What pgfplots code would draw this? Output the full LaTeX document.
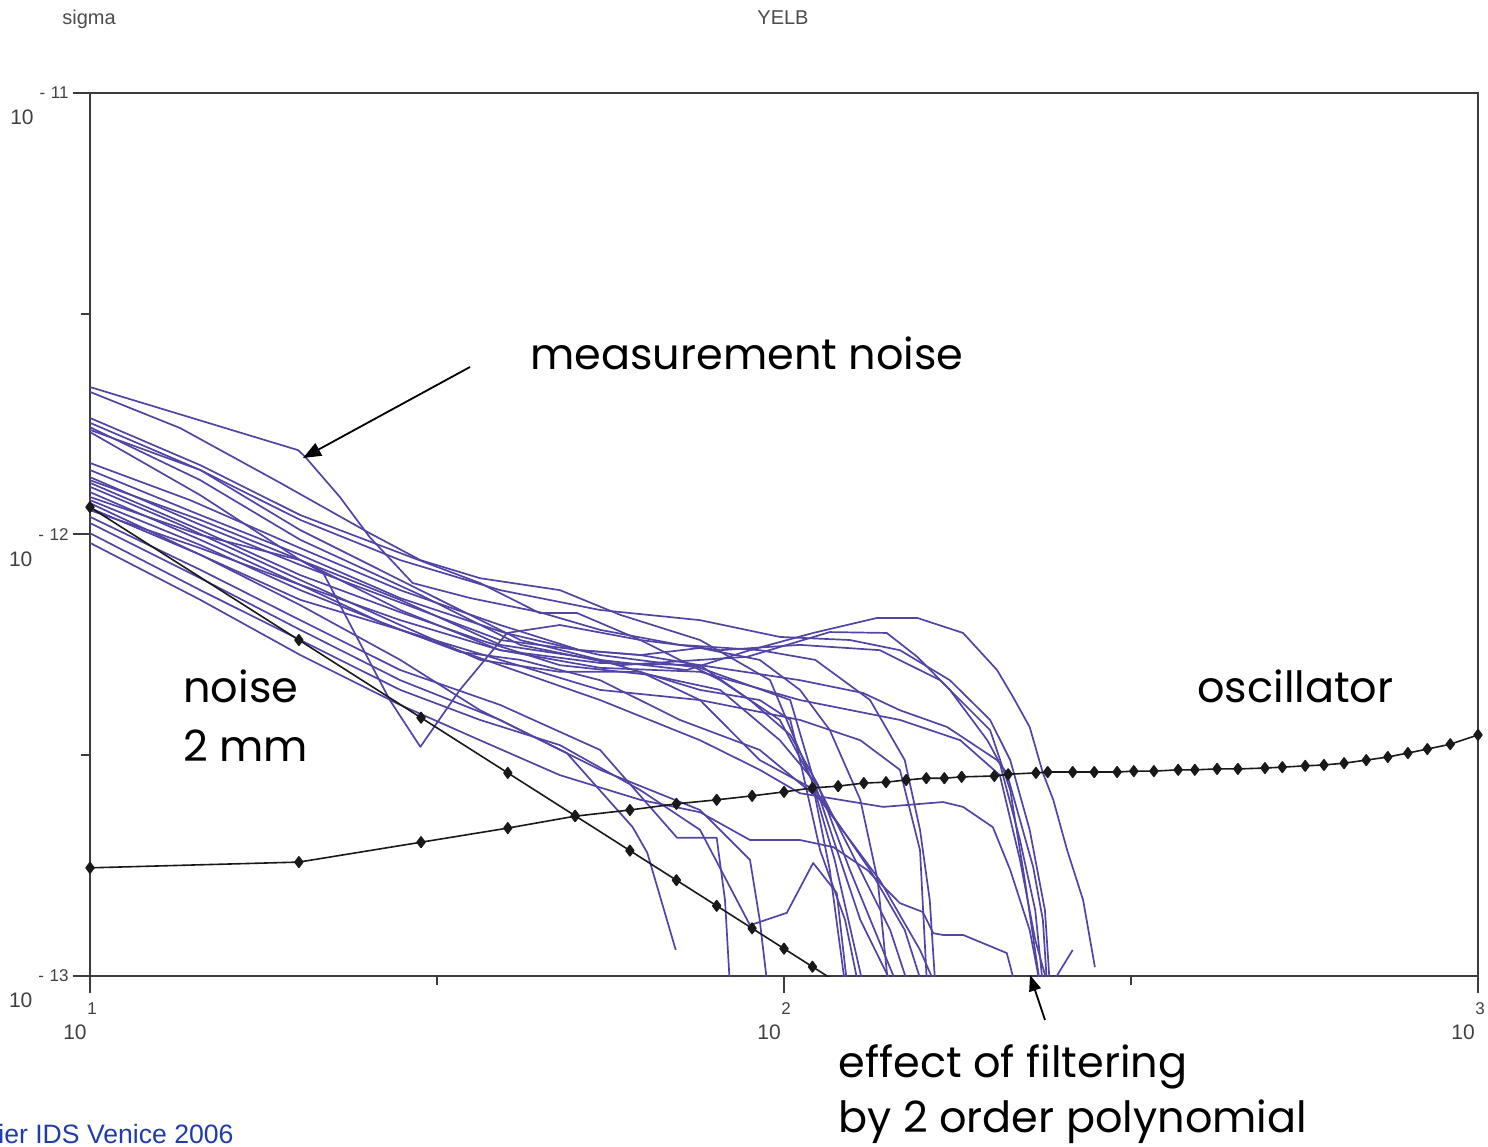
\documentclass[border=0pt]{standalone}
\usepackage{pgfplots}
\pgfplotsset{compat=1.18}
\usepackage{fontspec}
\setmainfont{Liberation Sans}
\newfontfamily\annot{Poppins}
\usetikzlibrary{arrows.meta}
\definecolor{curve}{RGB}{80,68,165}
\definecolor{axisgray}{RGB}{60,60,60}
\definecolor{venice}{RGB}{30,60,170}
\newcommand{\ylab}[1]{\smash{\raisebox{-13pt}{\fontsize{10.5}{12}\selectfont 10}}\hspace{3pt}{\fontsize{8.5}{9}\selectfont -\,\,#1}}
\newcommand{\xlab}[1]{\makebox[0pt]{\hspace{2pt}\fontsize{8.5}{9}\selectfont #1}\makebox[0pt]{\smash{\raisebox{-12.5pt}{\fontsize{10.5}{12}\selectfont 10}}\hspace{15pt}}}
\begin{document}
\begin{tikzpicture}
\useasboundingbox (-45pt,-85pt) rectangle (699pt,488pt);
\begin{axis}[
  at={(0pt,0pt)}, anchor=south west,
  scale only axis, width=694pt, height=441.5pt,
  xmin=1, xmax=3, ymin=-13, ymax=-11,
  axis line style={axisgray, line width=1pt},
  tick style={axisgray, line width=1pt},
  tick align=outside, tick pos=left,
  major tick length=8.5pt, minor tick length=4.5pt,
  xtick={1,2,3}, minor xtick={1.5,2.5},
  ytick={-13,-12,-11}, minor ytick={-12.5,-11.5},
  xticklabels={\xlab{1},\xlab{2},\xlab{3}},
  yticklabels={\ylab{13},\ylab{12},\ylab{11}},
  xticklabel style={anchor=north, inner sep=0pt, yshift=-4.5pt, text=black!75},
  yticklabel style={anchor=east, inner sep=2pt, text=black!75},
  every axis plot/.append style={line join=round},
  bl/.style={curve, line width=0.85pt, mark=none},
  bk/.style={black!90, line width=0.8pt, mark=diamond*, mark size=2.6pt, mark options={solid, fill=black!90}},
]
% measured sigma curves
\addplot[bl] coordinates {(1.000,-11.666) (1.300,-11.809) (1.310,-11.824) (1.360,-11.915) (1.403,-12.006) (1.465,-12.110) (1.548,-12.144) (1.648,-12.176) (1.735,-12.216) (1.850,-12.250) (1.965,-12.262) (2.045,-12.284) (2.124,-12.375) (2.174,-12.511) (2.196,-12.669) (2.210,-12.828) (2.218,-13.02)};
\addplot[bl] coordinates {(1.000,-11.677) (1.130,-11.759) (1.274,-11.883) (1.403,-11.997) (1.476,-12.058) (1.562,-12.099) (1.677,-12.126) (1.764,-12.182) (1.879,-12.239) (1.980,-12.330) (2.040,-12.556) (2.066,-12.760) (2.088,-13.02)};
\addplot[bl] coordinates {(1.000,-11.736) (1.159,-11.843) (1.303,-11.956) (1.447,-12.042) (1.562,-12.110) (1.648,-12.178) (1.702,-12.178) (1.793,-12.239) (1.908,-12.330) (1.994,-12.420) (2.040,-12.556) (2.073,-12.737) (2.114,-13.02)};
\addplot[bl] coordinates {(1.000,-11.747) (1.159,-11.854) (1.303,-11.990) (1.476,-12.126) (1.620,-12.239) (1.735,-12.284) (1.860,-12.307) (1.951,-12.262) (2.042,-12.223) (2.134,-12.189) (2.192,-12.189) (2.258,-12.223) (2.307,-12.307) (2.330,-12.368) (2.354,-12.436) (2.373,-12.540) (2.388,-12.601) (2.408,-12.715) (2.431,-12.828) (2.448,-12.980)};
\addplot[bl] coordinates {(1.000,-11.757) (1.159,-11.877) (1.303,-12.012) (1.476,-12.137) (1.620,-12.250) (1.764,-12.296) (1.947,-12.277) (2.066,-12.221) (2.148,-12.223) (2.192,-12.277) (2.239,-12.352) (2.293,-12.466) (2.311,-12.518) (2.340,-12.692) (2.362,-12.851) (2.373,-13.02)};
\addplot[bl] coordinates {(1.000,-11.768) (1.159,-11.911) (1.303,-12.058) (1.447,-12.171) (1.591,-12.262) (1.735,-12.291) (1.879,-12.296) (2.023,-12.330) (2.114,-12.359) (2.167,-12.398) (2.235,-12.436) (2.307,-12.511) (2.321,-12.540) (2.359,-12.753) (2.373,-12.873) (2.379,-13.02)};
\addplot[bl] coordinates {(1.000,-11.838) (1.144,-11.922) (1.303,-12.031) (1.447,-12.126) (1.591,-12.205) (1.706,-12.262) (1.793,-12.273) (1.879,-12.257) (1.965,-12.284) (2.023,-12.352) (2.066,-12.443) (2.110,-12.601) (2.135,-12.783) (2.150,-13.02)};
\addplot[bl] coordinates {(1.000,-11.854) (1.159,-11.956) (1.303,-12.046) (1.447,-12.144) (1.598,-12.223) (1.735,-12.273) (1.879,-12.302) (2.009,-12.375) (2.045,-12.567) (2.081,-12.737) (2.110,-12.873) (2.156,-13.02)};
\addplot[bl] coordinates {(1.000,-11.870) (1.159,-11.978) (1.303,-12.069) (1.476,-12.171) (1.591,-12.239) (1.706,-12.262) (1.793,-12.273) (1.879,-12.296) (1.951,-12.375) (2.009,-12.454) (2.049,-12.567) (2.095,-12.760) (2.163,-13.02)};
\addplot[bl] coordinates {(1.000,-11.883) (1.159,-11.990) (1.303,-12.092) (1.447,-12.176) (1.562,-12.239) (1.677,-12.296) (1.807,-12.318) (1.908,-12.352) (1.994,-12.466) (2.048,-12.567) (2.110,-12.760) (2.153,-12.896) (2.179,-13.02)};
\addplot[bl] coordinates {(1.000,-11.892) (1.130,-11.978) (1.303,-12.103) (1.447,-12.205) (1.562,-12.284) (1.677,-12.311) (1.793,-12.311) (1.879,-12.375) (1.965,-12.511) (2.045,-12.579) (2.124,-12.760) (2.174,-12.896) (2.199,-13.02)};
\addplot[bl] coordinates {(1.000,-11.904) (1.159,-12.012) (1.303,-12.114) (1.418,-12.198) (1.533,-12.266) (1.620,-12.284) (1.735,-12.330) (1.850,-12.420) (1.965,-12.488) (2.052,-12.601) (2.138,-12.783) (2.196,-12.941) (2.218,-13.02)};
\addplot[bl] coordinates {(1.000,-11.915) (1.159,-12.001) (1.303,-12.058) (1.336,-12.087) (1.432,-12.375) (1.476,-12.481) (1.533,-12.352) (1.601,-12.223) (1.677,-12.205) (1.793,-12.239) (1.908,-12.262) (2.023,-12.250) (2.138,-12.262) (2.225,-12.330) (2.297,-12.443) (2.326,-12.579) (2.347,-12.783) (2.369,-13.02)};
\addplot[bl] coordinates {(1.000,-11.929) (1.159,-12.046) (1.303,-12.160) (1.447,-12.284) (1.562,-12.398) (1.687,-12.495) (1.782,-12.663) (1.803,-12.721) (1.844,-12.941)};
\addplot[bl] coordinates {(1.000,-11.960) (1.159,-12.080) (1.303,-12.194) (1.447,-12.307) (1.591,-12.386) (1.735,-12.488) (1.846,-12.687) (1.903,-12.687) (1.915,-12.828) (1.922,-13.02)};
\addplot[bl] coordinates {(1.000,-11.974) (1.159,-12.099) (1.303,-12.216) (1.447,-12.330) (1.591,-12.420) (1.735,-12.533) (1.879,-12.624) (1.951,-12.737) (1.965,-12.873) (1.976,-13.02)};
\addplot[bl] coordinates {(1.000,-11.997) (1.159,-12.126) (1.303,-12.239) (1.447,-12.352) (1.562,-12.420) (1.677,-12.477) (1.793,-12.579) (1.879,-12.669) (1.951,-12.885) (2.004,-12.857) (2.042,-12.744) (2.076,-12.812) (2.091,-13.02)};
\addplot[bl] coordinates {(1.000,-12.019) (1.159,-12.148) (1.303,-12.273) (1.447,-12.386) (1.562,-12.466) (1.677,-12.545) (1.793,-12.601) (1.879,-12.629) (1.951,-12.692) (2.023,-12.692) (2.071,-12.708) (2.120,-12.760) (2.167,-12.835) (2.200,-12.855) (2.215,-12.903) (2.229,-12.907) (2.258,-12.907) (2.321,-12.948) (2.333,-13.02)};
\addplot[bl] coordinates {(1.000,-11.763) (1.159,-11.854) (1.303,-11.967) (1.447,-12.058) (1.591,-12.126) (1.735,-12.171) (1.879,-12.194) (1.994,-12.232) (2.095,-12.239) (2.167,-12.262) (2.239,-12.330) (2.297,-12.420) (2.326,-12.511) (2.354,-12.669) (2.376,-12.851) (2.383,-13.02)};
\addplot[bl] coordinates {(1.000,-11.940) (1.159,-12.046) (1.303,-12.148) (1.447,-12.216) (1.591,-12.284) (1.735,-12.352) (1.879,-12.375) (2.023,-12.420) (2.110,-12.466) (2.167,-12.533) (2.196,-12.715) (2.206,-13.02)};
\addplot[bl] coordinates {(1.000,-11.877) (1.159,-11.967) (1.303,-12.058) (1.447,-12.148) (1.591,-12.250) (1.735,-12.284) (1.879,-12.352) (1.965,-12.375) (2.009,-12.420) (2.023,-12.511) (2.052,-12.715) (2.088,-12.873) (2.107,-13.02)};
\addplot[bl] coordinates {(1.000,-11.922) (1.159,-12.024) (1.303,-12.126) (1.447,-12.216) (1.591,-12.296) (1.735,-12.375) (1.879,-12.466) (1.965,-12.533) (2.023,-12.586) (2.143,-12.617) (2.229,-12.606) (2.258,-12.617) (2.301,-12.663) (2.326,-12.760) (2.354,-12.896) (2.369,-13.02)};
\addplot[bl] coordinates {(1.000,-11.945) (1.159,-12.031) (1.303,-12.114) (1.447,-12.194) (1.591,-12.262) (1.735,-12.302) (1.879,-12.311) (2.023,-12.375) (2.167,-12.420) (2.254,-12.466) (2.311,-12.545) (2.340,-12.737) (2.362,-12.918) (2.380,-13.02) (2.393,-13.00) (2.416,-12.941)};
% noise 2 mm
\addplot[bk] coordinates {(1.000,-11.938) (1.301,-12.239) (1.477,-12.415) (1.602,-12.540) (1.699,-12.637) (1.778,-12.716) (1.845,-12.783) (1.903,-12.841) (1.954,-12.892) (2.000,-12.938) (2.041,-12.979) (2.079,-13.017)};
% oscillator
\addplot[bk] coordinates {(1.000,-12.755) (1.301,-12.742) (1.477,-12.697) (1.602,-12.665) (1.699,-12.638) (1.778,-12.624) (1.845,-12.610) (1.903,-12.601) (1.954,-12.592) (2.000,-12.583) (2.041,-12.574) (2.078,-12.570) (2.115,-12.563) (2.147,-12.561) (2.176,-12.556) (2.205,-12.552) (2.231,-12.552) (2.256,-12.549) (2.303,-12.547) (2.323,-12.543) (2.363,-12.540) (2.380,-12.538) (2.416,-12.538) (2.447,-12.538) (2.480,-12.538) (2.504,-12.536) (2.533,-12.536) (2.568,-12.533) (2.592,-12.533) (2.624,-12.531) (2.654,-12.531) (2.693,-12.529) (2.718,-12.527) (2.751,-12.524) (2.778,-12.522) (2.807,-12.518) (2.839,-12.511) (2.870,-12.504) (2.899,-12.495) (2.927,-12.486) (2.960,-12.475) (3.000,-12.454)};
\end{axis}
% titles
\node[anchor=base west, inner sep=0pt, text=black!70, font=\fontsize{10}{12}\selectfont] at (-14pt,475.5pt) {sigma};
\node[anchor=base west, inner sep=0pt, text=black!70, font=\fontsize{10}{12}\selectfont] at (333.5pt,475.5pt) {YELB};
% annotations
\begin{scope}[every node/.style={anchor=base west, inner sep=0pt, font=\annot\fontsize{21.5}{26}\selectfont}]
\node at (220pt,303pt) {measurement noise};
\node at (46.5pt,136.5pt) {noise};
\node at (46.5pt,107pt) {2 mm};
\node at (553.5pt,136.5pt) {oscillator};
\node at (374pt,-50.5pt) {effect of filtering};
\node at (374pt,-78pt) {by 2 order polynomial};
\end{scope}
\draw[line width=0.9pt, -{Triangle[length=9pt,width=7pt]}] (190pt,304.5pt) -- (106.5pt,259pt);
\draw[line width=0.9pt, -{Triangle[length=8pt,width=6pt]}] (477.5pt,-22pt) -- (470pt,0.5pt);
\node[anchor=base west, inner sep=0pt, text=venice, font=\fontsize{13.3}{15}\selectfont] at (-46pt,-83.5pt) {ier IDS Venice 2006};
\end{tikzpicture}
\end{document}
